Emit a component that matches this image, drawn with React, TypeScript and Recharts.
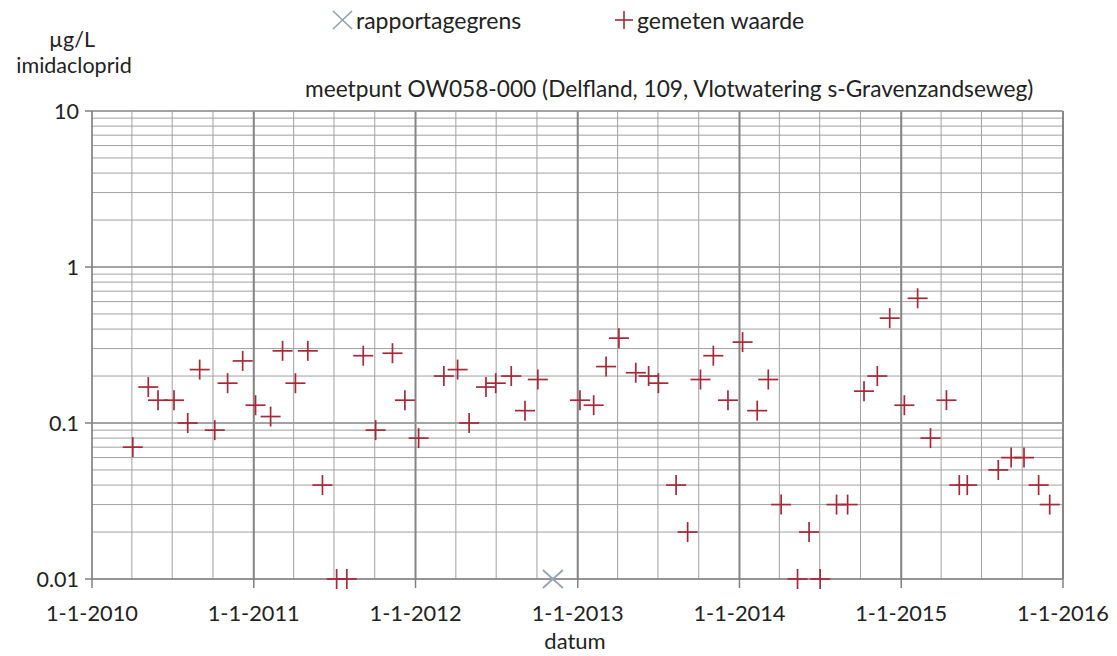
import React from 'react';
import {
  ScatterChart, Scatter, XAxis, YAxis, CartesianGrid, ReferenceLine,
} from 'recharts';

// ---- data ----
const measuredDates: string[] = [
  '2010-04-03', '2010-05-08', '2010-05-30', '2010-07-05', '2010-08-05', '2010-09-01',
  '2010-10-05', '2010-11-03', '2010-12-07', '2011-01-05', '2011-02-08', '2011-03-07',
  '2011-04-05', '2011-05-03', '2011-06-05', '2011-07-07', '2011-07-30', '2011-09-05',
  '2011-10-03', '2011-11-10', '2011-12-08', '2012-01-08', '2012-03-05', '2012-04-05',
  '2012-05-01', '2012-06-08', '2012-06-30', '2012-08-04', '2012-09-04', '2012-10-03',
  '2013-01-06', '2013-02-06', '2013-03-06', '2013-04-04', '2013-05-12', '2013-06-10',
  '2013-07-02', '2013-08-11', '2013-09-06', '2013-10-05', '2013-11-03', '2013-12-06',
  '2014-01-08', '2014-02-10', '2014-03-07', '2014-04-05', '2014-05-12', '2014-06-07',
  '2014-07-02', '2014-08-08', '2014-09-02', '2014-10-09', '2014-11-08', '2014-12-06',
  '2015-01-08', '2015-02-07', '2015-03-08', '2015-04-13', '2015-05-12', '2015-05-30',
  '2015-08-08', '2015-09-06', '2015-10-05', '2015-11-07', '2015-12-02',
];
const measuredValues: number[] = [
  0.07, 0.17, 0.14, 0.14, 0.10, 0.22,
  0.09, 0.18, 0.25, 0.13, 0.11, 0.29,
  0.18, 0.29, 0.04, 0.01, 0.01, 0.27,
  0.09, 0.28, 0.14, 0.08, 0.20, 0.22,
  0.10, 0.17, 0.18, 0.20, 0.12, 0.19,
  0.14, 0.13, 0.23, 0.35, 0.21, 0.20,
  0.18, 0.04, 0.02, 0.19, 0.27, 0.14,
  0.33, 0.12, 0.19, 0.03, 0.01, 0.02,
  0.01, 0.03, 0.03, 0.16, 0.20, 0.47,
  0.13, 0.63, 0.08, 0.14, 0.04, 0.04,
  0.05, 0.06, 0.06, 0.04, 0.03,
];
const limitDates: string[] = ['2012-11-06'];
const limitValues: number[] = [0.01];

const yearLabels: string[] = ['1-1-2010', '1-1-2011', '1-1-2012', '1-1-2013', '1-1-2014', '1-1-2015', '1-1-2016'];
const years: number[] = [2010, 2011, 2012, 2013, 2014, 2015, 2016];
const yMajorTicks: number[] = [0.01, 0.1, 1, 10];
const yMajorLabels: string[] = ['0.01', '0.1', '1', '10'];
const minorMultipliers: number[] = [1, 2, 3, 4, 5, 6, 7, 8, 9];

const legendLimit = 'rapportagegrens';
const legendMeasured = 'gemeten waarde';
const titleText = 'meetpunt OW058-000 (Delfland, 109, Vlotwatering s-Gravenzandseweg)';
const yTitle1 = 'µg/L';
const yTitle2 = 'imidacloprid';
const xTitle = 'datum';

// ---- derived ----
const toTs = (d: string) => Date.parse(d + 'T00:00:00Z');
const measured = measuredDates.map((d, i) => ({ x: toTs(d), y: measuredValues[i] }));
const limit = limitDates.map((d, i) => ({ x: toTs(d), y: limitValues[i] }));
const yearTs = years.map((y) => Date.UTC(y, 0, 1));
const quarterTs: number[] = [];
years.forEach((y, i) => {
  if (i < years.length - 1) {
    [0, 3, 6, 9].forEach((m) => quarterTs.push(Date.UTC(y, m, 1)));
  } else {
    quarterTs.push(Date.UTC(y, 0, 1));
  }
});
const yAllTicks: number[] = [];
yMajorTicks.slice(0, 3).forEach((d) => minorMultipliers.forEach((m) => yAllTicks.push(+(d * m).toPrecision(3))));
yAllTicks.push(10);

const FONT = 'Lato, "Open Sans", sans-serif';
const TEXT = '#222';
const MARK = '#a82838';
const LIMIT = '#8fa3b6';

const XTick = (props: any) => {
  const { x, y, payload } = props;
  const idx = yearTs.indexOf(payload.value);
  if (idx < 0) return null;
  return (
    <g>
      <line x1={x} x2={x} y1={y} y2={y + 9} stroke="#808080" strokeWidth={1.5} />
      <text x={x} y={y + 33} textAnchor="middle" dominantBaseline="central" fontFamily={FONT} fontSize={21.8} fill={TEXT}>
        {yearLabels[idx]}
      </text>
    </g>
  );
};

const YTick = (props: any) => {
  const { x, y, payload } = props;
  const idx = yMajorTicks.findIndex((v) => Math.abs(v - payload.value) < 1e-9);
  if (idx < 0) return null;
  return (
    <g>
      <line x1={x - 7} x2={x} y1={y} y2={y} stroke="#808080" strokeWidth={1.5} />
      <text x={x - 13} y={y} textAnchor="end" dominantBaseline="central" fontFamily={FONT} fontSize={21.5} fill={TEXT}>
        {yMajorLabels[idx]}
      </text>
    </g>
  );
};

const PlusShape = (props: any) => {
  const { cx, cy } = props;
  if (cx == null || cy == null) return null;
  return (
    <g>
      <line x1={cx - 10} x2={cx + 10} y1={cy} y2={cy} stroke={MARK} strokeWidth={1.7} />
      <line x1={cx} x2={cx} y1={cy - 10} y2={cy + 10} stroke={MARK} strokeWidth={1.7} />
    </g>
  );
};

const CrossShape = (props: any) => {
  const { cx, cy } = props;
  if (cx == null || cy == null) return null;
  return (
    <g>
      <line x1={cx - 10} x2={cx + 10} y1={cy - 9} y2={cy + 9} stroke={LIMIT} strokeWidth={1.7} />
      <line x1={cx - 10} x2={cx + 10} y1={cy + 9} y2={cy - 9} stroke={LIMIT} strokeWidth={1.7} />
    </g>
  );
};

export default function App() {
  return (
    <div style={{ position: 'absolute', left: 0, top: 0, width: 1117, height: 656, background: '#fff' }}>
      <ScatterChart width={1117} height={656} margin={{ top: 111, right: 54, bottom: 0, left: 0 }}>
        <CartesianGrid stroke="#a0a0a0" strokeWidth={1} />
        <XAxis
          type="number"
          dataKey="x"
          scale="time"
          domain={[yearTs[0], yearTs[yearTs.length - 1]]}
          ticks={quarterTs}
          interval={0}
          tick={<XTick />}
          tickLine={false}
          tickSize={0}
          tickMargin={0}
          height={77}
          axisLine={{ stroke: '#808080', strokeWidth: 1.5 }}
        />
        <YAxis
          type="number"
          dataKey="y"
          scale="log"
          domain={[0.01, 10]}
          ticks={yAllTicks}
          interval={0}
          tick={<YTick />}
          tickLine={false}
          tickSize={0}
          tickMargin={0}
          width={92}
          axisLine={{ stroke: '#808080', strokeWidth: 1.5 }}
        />
        {yearTs.slice(1).map((t) => (
          <ReferenceLine key={'yr' + t} x={t} stroke="#858585" strokeWidth={2} />
        ))}
        {yMajorTicks.slice(1).map((v) => (
          <ReferenceLine key={'dec' + v} y={v} stroke="#959595" strokeWidth={1.5} />
        ))}
        <Scatter name={legendLimit} data={limit} shape={<CrossShape />} isAnimationActive={false} />
        <Scatter name={legendMeasured} data={measured} shape={<PlusShape />} isAnimationActive={false} />
      </ScatterChart>
      <svg width={1117} height={656} style={{ position: 'absolute', left: 0, top: 0, pointerEvents: 'none' }}>
        <g fontFamily={FONT} fill={TEXT}>
          <line x1={333} x2={352} y1={11} y2={29} stroke={LIMIT} strokeWidth={1.6} />
          <line x1={333} x2={352} y1={29} y2={11} stroke={LIMIT} strokeWidth={1.6} />
          <text x={356} y={20} fontSize={23} dominantBaseline="central">{legendLimit}</text>
          <line x1={615} x2={633} y1={20} y2={20} stroke={MARK} strokeWidth={1.6} />
          <line x1={624} x2={624} y1={11} y2={29} stroke={MARK} strokeWidth={1.6} />
          <text x={637} y={20} fontSize={23} dominantBaseline="central">{legendMeasured}</text>
          <text x={72} y={39} fontSize={21.5} textAnchor="middle" dominantBaseline="central">{yTitle1}</text>
          <text x={74} y={65} fontSize={21.5} textAnchor="middle" dominantBaseline="central">{yTitle2}</text>
          <text x={305} y={88} fontSize={22.7} dominantBaseline="central">{titleText}</text>
          <text x={575} y={640} fontSize={22} textAnchor="middle" dominantBaseline="central">{xTitle}</text>
        </g>
      </svg>
    </div>
  );
}
